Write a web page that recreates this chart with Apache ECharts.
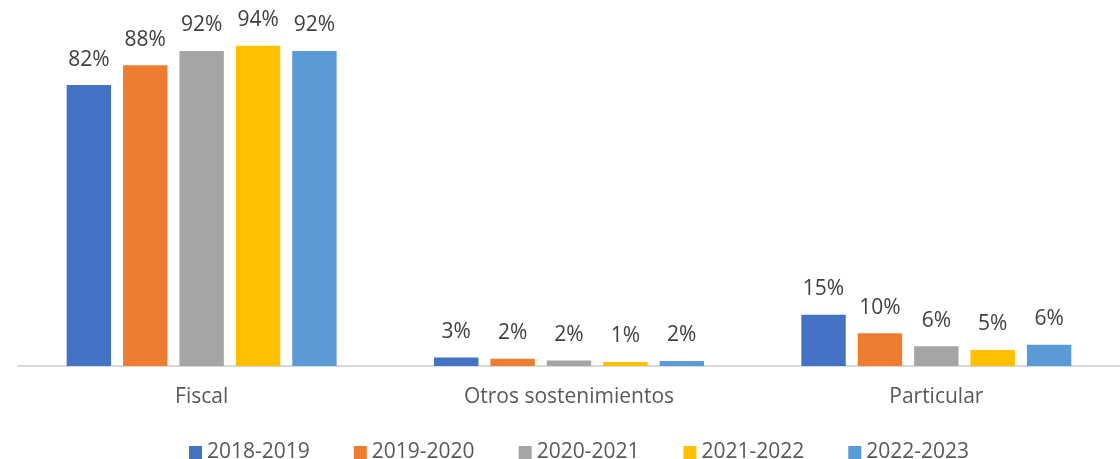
<!DOCTYPE html>
<html>
<head>
<meta charset="utf-8">
<script src="https://cdn.jsdelivr.net/npm/echarts@6/dist/echarts.min.js"></script>
<style>
  html, body { margin: 0; padding: 0; background: #fff; }
  #chart { width: 1120px; height: 459px; }
</style>
</head>
<body>
<div id="chart"></div>
<script>
// categorias y ciclos escolares
var categorias = ["Fiscal", "Otros sostenimientos", "Particular"];
var ciclos = ["2018-2019", "2019-2020", "2020-2021", "2021-2022", "2022-2023"];

// porcentajes por ciclo
var v2018 = [82.4, 2.5, 15.0];
var v2019 = [88.2, 2.1, 9.6];
var v2020 = [92.4, 1.6, 5.8];
var v2021 = [93.9, 1.2, 4.7];
var v2022 = [92.4, 1.5, 6.2];

var valores = [v2018, v2019, v2020, v2021, v2022];
var colores = ["#4472C4", "#ED7D31", "#A5A5A5", "#FFC000", "#5B9BD5"];

var fuente = "Open Sans";
var myChart = echarts.init(document.getElementById("chart"));

var series = ciclos.map(function (c, i) {
  return {
    name: c,
    type: "bar",
    data: valores[i],
    barGap: "27%",
    barCategoryGap: "26.5%",
    itemStyle: { color: colores[i] },
    label: {
      show: true,
      position: "top",
      distance: 15,
      color: "#404040",
      fontFamily: fuente,
      fontSize: 21,
      formatter: function (p) { return Math.round(p.value) + "%"; }
    }
  };
});

var option = {
  animation: false,
  color: colores,
  grid: {
    left: 18,
    right: -13,
    top: 25,
    bottom: 93
  },
  legend: {
    left: 184,
    top: 437,
    itemWidth: 13,
    itemHeight: 13,
    itemGap: 44,
    icon: "rect",
    textStyle: { color: "#595959", fontFamily: fuente, fontSize: 21 },
    data: ciclos
  },
  xAxis: {
    type: "category",
    data: categorias,
    axisLine: { lineStyle: { color: "#D9D9D9", width: 2 } },
    axisTick: { show: false },
    axisLabel: { color: "#595959", fontFamily: fuente, fontSize: 21, margin: 21 }
  },
  yAxis: {
    type: "value",
    min: 0,
    max: 100,
    show: false,
    splitLine: { show: false }
  },
  series: series
};
myChart.setOption(option);
</script>
</body>
</html>
